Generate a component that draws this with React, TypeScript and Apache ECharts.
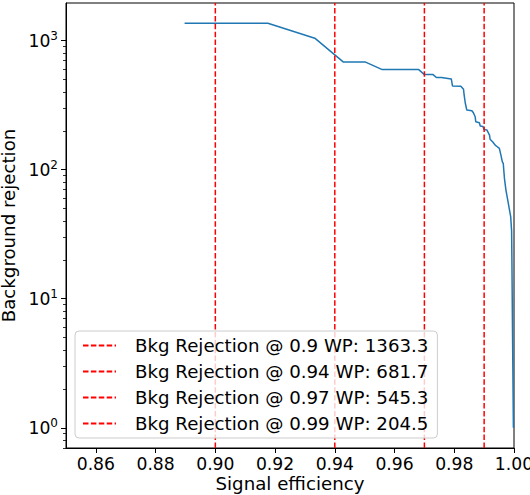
import React, { useEffect, useRef } from "react";
import * as echarts from "echarts";

// ROC curve: signal efficiency vs background rejection
const effValues: number[] = [
  0.8897, 0.9176, 0.9333, 0.9429, 0.9503, 0.9559, 0.9681, 0.97, 0.9729, 0.974,
  0.9757, 0.979, 0.9794, 0.9822, 0.9831, 0.9833, 0.9837, 0.9842, 0.9859, 0.9864,
  0.987, 0.9872, 0.9884, 0.9887, 0.9896, 0.99, 0.9909, 0.9918, 0.992, 0.9929,
  0.9937, 0.9944, 0.9951, 0.9956, 0.9961, 0.9964, 0.9968, 0.9973, 0.9981, 0.9989,
  0.9992, 0.9993, 0.9995, 0.9998,
];
const rejValues: number[] = [
  1363.3, 1363.3, 1044, 681.7, 681.7, 596, 596, 545.3, 545.3, 518,
  518, 505, 445, 443, 420, 379, 327, 290, 286, 276,
  257, 235, 231, 218, 216, 204.5, 203, 185.5, 172, 164,
  155, 150.5, 146, 130, 115, 112, 85.6, 69.5, 54.8, 43.1,
  33.4, 19.9, 5.7, 1.0,
];

// Working points
const wpEff: number[] = [0.9, 0.94, 0.97, 0.99];
const wpRej: number[] = [1363.3, 681.7, 545.3, 204.5];

// Axis ticks
const xTicks: number[] = [0.86, 0.88, 0.9, 0.92, 0.94, 0.96, 0.98, 1.0];
const yMajorTicks: number[] = [1, 10, 100, 1000];
const yMinorTicks: number[] = [
  0.7, 0.8, 0.9, 2, 3, 4, 5, 6, 7, 8, 9, 20, 30, 40, 50, 60, 70, 80, 90,
  200, 300, 400, 500, 600, 700, 800, 900,
];

const X_MIN = 0.85;
const X_MAX = 1.0;
const Y_MIN = 0.697;
const Y_MAX = 1956;

const FONT = "DejaVu Sans";
const FS_TICK = 17.2;
const FS_LABEL = 18.2;

export default function App() {
  const ref = useRef<HTMLDivElement>(null);

  useEffect(() => {
    if (!ref.current) return;
    const chart = echarts.init(ref.current, undefined, { renderer: "svg" });

    const rocData = effValues.map((x, i) => [x, rejValues[i]]);
    const wpSeries = wpEff.map((w, i) => ({
      name: `Bkg Rejection @ ${w} WP: ${wpRej[i].toFixed(1)}`,
      type: "line" as const,
      data: [
        [w, Y_MIN],
        [w, Y_MAX],
      ],
      symbol: "none",
      showSymbol: false,
      lineStyle: { color: "#ff0000", width: 1.5, type: [5.5, 2.4] as any },
      itemStyle: { color: "#ff0000" },
      z: 3,
    }));

    chart.setOption({
      animation: false,
      textStyle: { fontFamily: FONT },
      grid: {
        left: 66,
        right: 16,
        top: 3,
        bottom: 47,
        show: true,
        borderColor: "#000",
        borderWidth: 1,
        backgroundColor: "transparent",
        outerBoundsMode: "none",
        containLabel: false,
      },
      legend: {
        orient: "vertical",
        left: 75,
        top: 331,
        data: wpSeries.map((s) => s.name),
        itemWidth: 33,
        itemHeight: 14,
        itemGap: 5,
        padding: [4, 9, 4, 7],
        backgroundColor: "rgba(255,255,255,0.8)",
        borderColor: "#cccccc",
        borderWidth: 1,
        borderRadius: 4,
        itemStyle: { opacity: 0 },
        textStyle: {
          fontFamily: FONT,
          fontSize: FS_LABEL,
          color: "#000",
          lineHeight: 21,
          padding: [0, 0, 0, 14],
        },
      },
      xAxis: {
        type: "value",
        min: X_MIN,
        max: X_MAX,
        name: "Signal efficiency",
        nameLocation: "middle",
        nameGap: 25,
        nameMoveOverlap: false,
        nameTextStyle: { fontFamily: FONT, fontSize: FS_LABEL, color: "#000", verticalAlign: "top", lineHeight: 20 },
        splitLine: { show: false },
        axisLine: { show: true, lineStyle: { color: "#000", width: 1 } },
        axisTick: {
          show: true,
          inside: false,
          length: 5,
          lineStyle: { color: "#000", width: 1 },
          customValues: xTicks,
        },
        axisLabel: {
          fontFamily: FONT,
          fontSize: FS_TICK,
          color: "#000",
          margin: 7,
          lineHeight: 18,
          customValues: xTicks,
          formatter: (v: number) => v.toFixed(2),
        },
      },
      yAxis: [
        {
          type: "log",
          min: Y_MIN,
          max: Y_MAX,
          name: "Background rejection",
          nameLocation: "middle",
          nameGap: 49,
          nameMoveOverlap: false,
          nameTextStyle: { fontFamily: FONT, fontSize: FS_LABEL, color: "#000", lineHeight: 18 },
          splitLine: { show: false },
          axisLine: { show: true, lineStyle: { color: "#000", width: 1 } },
          axisTick: {
            show: true,
            inside: false,
            length: 5,
            lineStyle: { color: "#000", width: 1 },
            customValues: yMajorTicks,
          },
          axisLabel: {
            margin: 8,
            customValues: yMajorTicks,
            formatter: (v: number) => `{b|10}{s|${Math.round(Math.log10(v))}}`,
            rich: {
              b: { fontFamily: FONT, fontSize: FS_TICK, color: "#000" },
              s: { fontFamily: FONT, fontSize: 12, color: "#000", padding: [0, 0, 10, 0] },
            },
          },
        },
        {
          type: "log",
          min: Y_MIN,
          max: Y_MAX,
          position: "left",
          splitLine: { show: false },
          axisLine: { show: false },
          axisTick: {
            show: true,
            inside: false,
            length: 3,
            lineStyle: { color: "#000", width: 0.8 },
            customValues: yMinorTicks,
          },
          axisLabel: { show: false },
        },
      ],
      series: [
        {
          name: "ROC",
          type: "line",
          data: rocData,
          symbol: "none",
          lineStyle: { color: "#1f77b4", width: 1.5 },
          itemStyle: { color: "#1f77b4" },
          z: 2,
        },
        ...wpSeries,
      ],
    });

    return () => chart.dispose();
  }, []);

  return <div ref={ref} style={{ width: 530, height: 495, position: "absolute", left: 0, top: 0 }} />;
}
